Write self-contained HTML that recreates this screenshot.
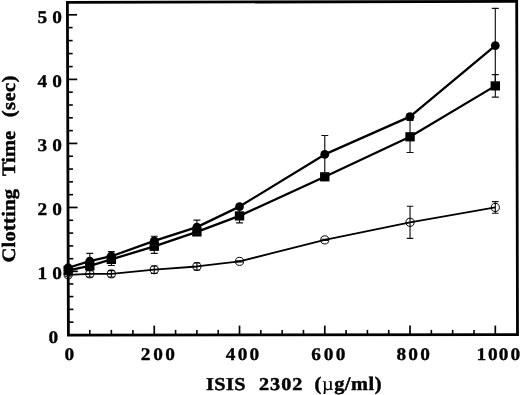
<!DOCTYPE html>
<html lang="en">
<head>
<meta charset="utf-8">
<title>Clotting Time vs ISIS 2302</title>
<style>
html,body{margin:0;padding:0;background:#fff;}
body{width:520px;height:395px;overflow:hidden;}
svg{display:block;will-change:transform;}
</style>
</head>
<body>
<svg width="520" height="395" viewBox="0 0 520 395">
<rect x="0" y="0" width="520" height="395" fill="#fff"/>
<g stroke="#000" fill="none" stroke-linecap="butt">
<polygon points="67.4,2.35 516.7,1.45 517.5,334.6 68.4,335.05" stroke-width="2.8" stroke-linejoin="miter"/>
<line x1="68.46" y1="322.19" x2="73.46" y2="322.19" stroke-width="1.6"/>
<line x1="68.42" y1="309.38" x2="73.42" y2="309.38" stroke-width="1.6"/>
<line x1="68.38" y1="296.58" x2="73.38" y2="296.58" stroke-width="1.6"/>
<line x1="68.35" y1="283.95" x2="73.35" y2="283.95" stroke-width="1.6"/>
<line x1="68.31" y1="271.33" x2="77.81" y2="271.33" stroke-width="1.7"/>
<line x1="68.27" y1="258.70" x2="73.27" y2="258.70" stroke-width="1.6"/>
<line x1="68.23" y1="245.89" x2="73.23" y2="245.89" stroke-width="1.6"/>
<line x1="68.19" y1="233.09" x2="73.19" y2="233.09" stroke-width="1.6"/>
<line x1="68.16" y1="220.28" x2="73.16" y2="220.28" stroke-width="1.6"/>
<line x1="68.12" y1="207.47" x2="77.62" y2="207.47" stroke-width="1.7"/>
<line x1="68.08" y1="194.66" x2="73.08" y2="194.66" stroke-width="1.6"/>
<line x1="68.04" y1="181.85" x2="73.04" y2="181.85" stroke-width="1.6"/>
<line x1="68.00" y1="169.05" x2="73.00" y2="169.05" stroke-width="1.6"/>
<line x1="67.96" y1="156.24" x2="72.96" y2="156.24" stroke-width="1.6"/>
<line x1="67.92" y1="143.43" x2="77.42" y2="143.43" stroke-width="1.7"/>
<line x1="67.89" y1="130.62" x2="72.89" y2="130.62" stroke-width="1.6"/>
<line x1="67.85" y1="117.81" x2="72.85" y2="117.81" stroke-width="1.6"/>
<line x1="67.81" y1="105.01" x2="72.81" y2="105.01" stroke-width="1.6"/>
<line x1="67.77" y1="92.20" x2="72.77" y2="92.20" stroke-width="1.6"/>
<line x1="67.73" y1="79.39" x2="77.23" y2="79.39" stroke-width="1.7"/>
<line x1="67.69" y1="66.58" x2="72.69" y2="66.58" stroke-width="1.6"/>
<line x1="67.65" y1="53.59" x2="72.65" y2="53.59" stroke-width="1.6"/>
<line x1="67.62" y1="40.60" x2="72.62" y2="40.60" stroke-width="1.6"/>
<line x1="67.58" y1="27.61" x2="72.58" y2="27.61" stroke-width="1.6"/>
<line x1="67.54" y1="14.80" x2="77.04" y2="14.80" stroke-width="1.7"/>
<line x1="89.78" y1="335.1" x2="89.78" y2="329.9" stroke-width="1.6"/>
<line x1="111.35" y1="335.1" x2="111.35" y2="329.9" stroke-width="1.6"/>
<line x1="132.93" y1="335.1" x2="132.93" y2="329.9" stroke-width="1.6"/>
<line x1="154.26" y1="335.1" x2="154.26" y2="325.6" stroke-width="1.7"/>
<line x1="175.57" y1="335.1" x2="175.57" y2="329.9" stroke-width="1.6"/>
<line x1="196.89" y1="335.1" x2="196.89" y2="329.9" stroke-width="1.6"/>
<line x1="218.21" y1="335.1" x2="218.21" y2="329.9" stroke-width="1.6"/>
<line x1="239.52" y1="335.1" x2="239.52" y2="325.6" stroke-width="1.7"/>
<line x1="260.84" y1="335.1" x2="260.84" y2="329.9" stroke-width="1.6"/>
<line x1="282.15" y1="335.1" x2="282.15" y2="329.9" stroke-width="1.6"/>
<line x1="303.47" y1="335.1" x2="303.47" y2="329.9" stroke-width="1.6"/>
<line x1="324.78" y1="335.1" x2="324.78" y2="325.6" stroke-width="1.7"/>
<line x1="346.10" y1="335.1" x2="346.10" y2="329.9" stroke-width="1.6"/>
<line x1="367.41" y1="335.1" x2="367.41" y2="329.9" stroke-width="1.6"/>
<line x1="388.73" y1="335.1" x2="388.73" y2="329.9" stroke-width="1.6"/>
<line x1="410.04" y1="335.1" x2="410.04" y2="325.6" stroke-width="1.7"/>
<line x1="431.36" y1="335.1" x2="431.36" y2="329.9" stroke-width="1.6"/>
<line x1="452.67" y1="335.1" x2="452.67" y2="329.9" stroke-width="1.6"/>
<line x1="473.99" y1="335.1" x2="473.99" y2="329.9" stroke-width="1.6"/>
<line x1="495.30" y1="335.1" x2="495.30" y2="325.6" stroke-width="1.7"/>
</g>
<g stroke="#111" stroke-width="1.15" fill="none">
<path d="M68.20 273.52V276.08M64.90 273.52H71.50M64.90 276.08H71.50"/>
<path d="M89.78 270.64V277.04M86.48 270.64H93.08M86.48 277.04H93.08"/>
<path d="M111.35 270.64V277.04M108.05 270.64H114.65M108.05 277.04H114.65"/>
<path d="M154.26 265.96V273.39M150.96 265.96H157.56M150.96 273.39H157.56"/>
<path d="M196.89 262.95V270.00M193.59 262.95H200.19M193.59 270.00H200.19"/>
<path d="M239.52 260.71V261.99M236.22 260.71H242.82M236.22 261.99H242.82"/>
<path d="M324.78 239.26V240.54M321.48 239.26H328.08M321.48 240.54H328.08"/>
<path d="M410.04 206.28V238.30M406.74 206.28H413.34M406.74 238.30H413.34"/>
<path d="M495.30 201.67V213.20M492.00 201.67H498.60M492.00 213.20H498.60"/>
</g>
<polyline points="68.20,274.80 89.78,273.84 111.35,273.84 154.26,269.68 196.89,266.48 239.52,261.35 324.78,239.90 410.04,222.29 495.30,207.43" fill="none" stroke="#000" stroke-width="1.8" stroke-linejoin="round"/>
<circle cx="68.20" cy="274.80" r="4.05" fill="none" stroke="#000" stroke-width="1"/>
<circle cx="89.78" cy="273.84" r="4.05" fill="none" stroke="#000" stroke-width="1"/>
<circle cx="111.35" cy="273.84" r="4.05" fill="none" stroke="#000" stroke-width="1"/>
<circle cx="154.26" cy="269.68" r="4.05" fill="none" stroke="#000" stroke-width="1"/>
<circle cx="196.89" cy="266.48" r="4.05" fill="none" stroke="#000" stroke-width="1"/>
<circle cx="239.52" cy="261.35" r="4.05" fill="none" stroke="#000" stroke-width="1"/>
<circle cx="324.78" cy="239.90" r="4.05" fill="none" stroke="#000" stroke-width="1"/>
<circle cx="410.04" cy="222.29" r="4.05" fill="none" stroke="#000" stroke-width="1"/>
<circle cx="495.30" cy="207.43" r="4.05" fill="none" stroke="#000" stroke-width="1"/>
<g stroke="#111" stroke-width="1.15" fill="none">
<path d="M68.20 268.40V272.24M64.70 268.40H71.70M64.70 272.24H71.70"/>
<path d="M89.78 263.28V268.40M86.28 263.28H93.28M86.28 268.40H93.28"/>
<path d="M111.35 256.23V265.52M107.85 256.23H114.85M107.85 265.52H114.85"/>
<path d="M154.26 243.10V253.35M150.76 243.10H157.76M150.76 253.35H157.76"/>
<path d="M196.89 229.33V234.46M193.39 229.33H200.39M193.39 234.46H200.39"/>
<path d="M239.52 208.84V222.93M236.02 208.84H243.02M236.02 222.93H243.02"/>
<path d="M324.78 174.26V179.38M321.28 174.26H328.28M321.28 179.38H328.28"/>
<path d="M410.04 120.47V152.49M406.54 120.47H413.54M406.54 152.49H413.54"/>
<path d="M495.30 74.61V97.16M491.80 74.61H498.80M491.80 97.16H498.80"/>
</g>
<polyline points="68.20,270.32 89.78,265.84 111.35,259.43 154.26,246.30 196.89,231.90 239.52,215.89 324.78,176.82 410.04,136.80 495.30,85.88" fill="none" stroke="#000" stroke-width="2.3" stroke-linejoin="round"/>
<rect x="63.50" y="265.72" width="9.4" height="9.2" fill="#000"/>
<rect x="85.08" y="261.24" width="9.4" height="9.2" fill="#000"/>
<rect x="106.65" y="254.83" width="9.4" height="9.2" fill="#000"/>
<rect x="149.56" y="241.70" width="9.4" height="9.2" fill="#000"/>
<rect x="192.19" y="227.30" width="9.4" height="9.2" fill="#000"/>
<rect x="234.82" y="211.29" width="9.4" height="9.2" fill="#000"/>
<rect x="320.08" y="172.22" width="9.4" height="9.2" fill="#000"/>
<rect x="405.34" y="132.20" width="9.4" height="9.2" fill="#000"/>
<rect x="490.60" y="81.28" width="9.4" height="9.2" fill="#000"/>
<g stroke="#111" stroke-width="1.15" fill="none">
<path d="M68.20 265.84V269.68M64.70 265.84H71.70M64.70 269.68H71.70"/>
<path d="M89.78 253.35V268.72M86.28 253.35H93.28M86.28 268.72H93.28"/>
<path d="M111.35 251.62V260.84M107.85 251.62H114.85M107.85 260.84H114.85"/>
<path d="M154.26 236.25V245.47M150.76 236.25H157.76M150.76 245.47H157.76"/>
<path d="M196.89 220.05V234.14M193.39 220.05H200.39M193.39 234.14H200.39"/>
<path d="M239.52 204.68V208.52M236.02 204.68H243.02M236.02 208.52H243.02"/>
<path d="M324.78 135.52V173.30M321.28 135.52H328.28M321.28 173.30H328.28"/>
<path d="M410.04 114.06V119.19M406.54 114.06H413.54M406.54 119.19H413.54"/>
<path d="M495.30 8.40V82.68M491.80 8.40H498.80M491.80 82.68H498.80"/>
</g>
<polyline points="68.20,267.76 89.78,261.03 111.35,256.23 154.26,240.86 196.89,227.09 239.52,206.60 324.78,154.41 410.04,116.62 495.30,45.54" fill="none" stroke="#000" stroke-width="2.3" stroke-linejoin="round"/>
<circle cx="68.20" cy="267.76" r="4.4" fill="#000"/>
<circle cx="89.78" cy="261.03" r="4.4" fill="#000"/>
<circle cx="111.35" cy="256.23" r="4.4" fill="#000"/>
<circle cx="154.26" cy="240.86" r="4.4" fill="#000"/>
<circle cx="196.89" cy="227.09" r="4.4" fill="#000"/>
<circle cx="239.52" cy="206.60" r="4.4" fill="#000"/>
<circle cx="324.78" cy="154.41" r="4.4" fill="#000"/>
<circle cx="410.04" cy="116.62" r="4.4" fill="#000"/>
<circle cx="495.30" cy="45.54" r="4.4" fill="#000"/>
<g font-family="'Liberation Serif', 'DejaVu Serif', serif" font-weight="bold" font-size="18px" fill="#000" stroke="#000" stroke-width="0.45" text-rendering="geometricPrecision">
<text transform="scale(1.08 1)" x="39.17 45.93 52.78" y="279.0" font-size="17.9px" stroke-width="0.35" text-anchor="middle" style="white-space:pre">1 0</text>
<text transform="scale(1.08 1)" x="39.17 45.93 52.78" y="215.2" font-size="17.9px" stroke-width="0.35" text-anchor="middle" style="white-space:pre">2 0</text>
<text transform="scale(1.08 1)" x="39.17 45.93 52.78" y="151.1" font-size="17.9px" stroke-width="0.35" text-anchor="middle" style="white-space:pre">3 0</text>
<text transform="scale(1.08 1)" x="39.17 45.93 52.78" y="87.1" font-size="17.9px" stroke-width="0.35" text-anchor="middle" style="white-space:pre">4 0</text>
<text transform="scale(1.08 1)" x="39.17 45.93 52.78" y="22.5" font-size="17.9px" stroke-width="0.35" text-anchor="middle" style="white-space:pre">5 0</text>
<text transform="scale(1.08 1)" x="49.49" y="342.6" font-size="17.9px" stroke-width="0.35" text-anchor="middle" style="white-space:pre">0</text>
<text transform="scale(1.08 1)" x="64.31" y="360.4" font-size="17.9px" stroke-width="0.35" text-anchor="middle" style="white-space:pre">0</text>
<text transform="scale(1.08 1)" x="134.81 146.39 157.50" y="360.4" font-size="17.9px" stroke-width="0.35" text-anchor="middle" style="white-space:pre">200</text>
<text transform="scale(1.08 1)" x="213.52 224.63 235.56" y="360.4" font-size="17.9px" stroke-width="0.35" text-anchor="middle" style="white-space:pre">400</text>
<text transform="scale(1.08 1)" x="292.69 304.26 315.37" y="360.4" font-size="17.9px" stroke-width="0.35" text-anchor="middle" style="white-space:pre">600</text>
<text transform="scale(1.08 1)" x="371.67 382.50 393.61" y="360.4" font-size="17.9px" stroke-width="0.35" text-anchor="middle" style="white-space:pre">800</text>
<text transform="scale(1.08 1)" x="445.74 456.30 466.39 477.22" y="360.4" font-size="17.9px" stroke-width="0.35" text-anchor="middle" style="white-space:pre">1000</text>
<text transform="translate(206 390) scale(1.12 1)" letter-spacing="0.4">ISIS</text>
<text transform="translate(259 390) scale(1.12 1)" letter-spacing="0.9">2302</text>
<text transform="translate(314.6 390) scale(1.07 1)" letter-spacing="0.5" font-size="19px">(<tspan font-weight="normal" stroke-width="0.15">µ</tspan>g/ml)</text>
<g transform="translate(14.8 262.6) rotate(-90)" font-size="19px">
<text transform="translate(0 0) scale(1.08 1)" letter-spacing="0.25">Clotting</text>
<text transform="translate(86.6 0) scale(1.08 1)" letter-spacing="0.0">Time</text>
<text transform="translate(145.3 0) scale(1.08 1)" letter-spacing="0.4">(sec)</text>
</g>
</g>
</svg>
</body>
</html>
